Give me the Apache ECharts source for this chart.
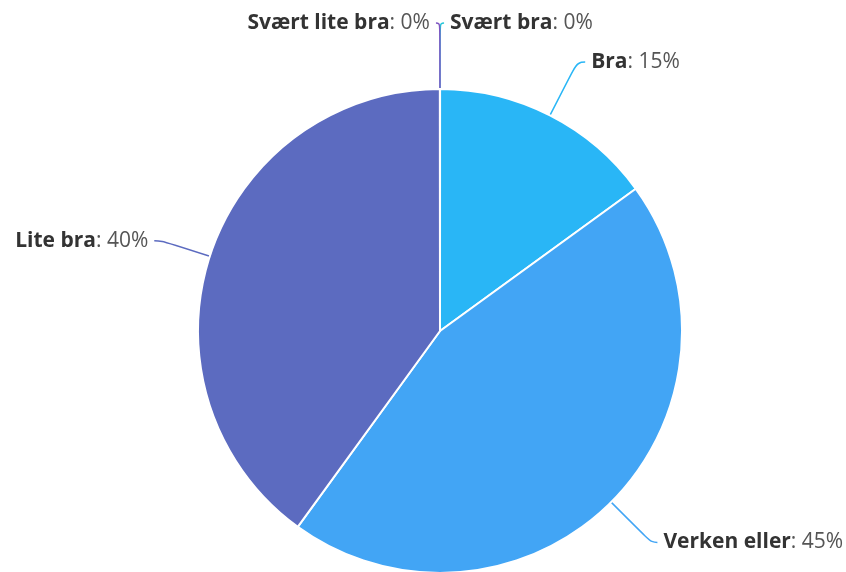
<!DOCTYPE html>
<html><head><meta charset="utf-8">
<script src="https://cdn.jsdelivr.net/npm/echarts@6/dist/echarts.min.js"></script>
<style>html,body{margin:0;padding:0;background:#fff}#c{width:846px;height:572px}</style>
</head><body><div id="c"></div>
<script>
const categories = ['Svært bra', 'Bra', 'Verken eller', 'Lite bra', 'Svært lite bra'];
const values = [0, 15, 45, 40, 0];

// styling (not data)
const colors = ['#26c6da', '#29b6f6', '#42a5f5', '#5c6bc0', '#7e57c2'];
const lineLen = [66, 60, 57, 50, 66];
const lineLen2 = [4, 8, 6, 8, 4];

const data = categories.map((c, i) => ({
  name: c,
  value: values[i],
  itemStyle: { color: colors[i] },
  labelLine: { length: lineLen[i], length2: lineLen2[i], lineStyle: { color: colors[i] } }
}));

const chart = echarts.init(document.getElementById('c'));
chart.setOption({
  animation: false,
  series: [{
    type: 'pie',
    center: [440, 331],
    radius: [0, 242],
    startAngle: 90,
    clockwise: true,
    minAngle: 0.02,
    minShowLabelAngle: 0,
    avoidLabelOverlap: false,
    itemStyle: { borderColor: '#fff', borderWidth: 2 },
    label: {
      show: true,
      position: 'outside',
      alignTo: 'none',
      distanceToLabelLine: 6,
      fontFamily: 'Open Sans',
      fontSize: 21,
      color: '#333',
      formatter: p => '{b|' + p.name + '}{v|: ' + p.value + '%}',
      rich: {
        b: { fontFamily: 'Open Sans', fontWeight: 'bold', fontSize: 21, color: '#333' },
        v: { fontFamily: 'Open Sans', fontWeight: 'normal', fontSize: 21, color: '#555' }
      }
    },
    labelLine: { show: true, smooth: 0.5, lineStyle: { width: 1.5 } },
    data: data
  }]
});
</script>
</body></html>
